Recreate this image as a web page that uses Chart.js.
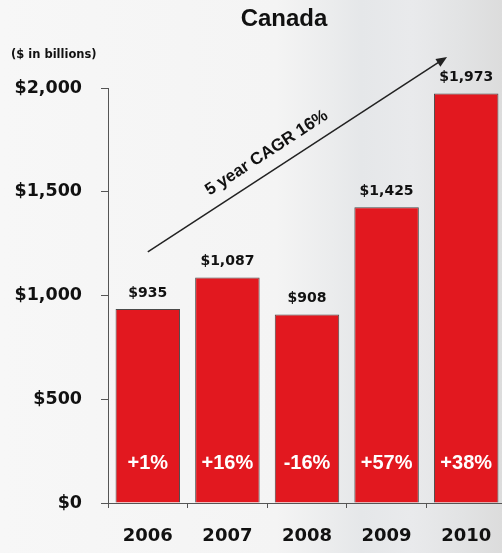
<!DOCTYPE html>
<html>
<head>
<meta charset="utf-8">
<script src="https://cdn.jsdelivr.net/npm/chart.js@4"></script>
<style>
    html, body {
        margin: 0;
        padding: 0;
        overflow: hidden;
    }
    body {
        width: 502px;
        height: 553px;
        background: linear-gradient(to right, #f7f7f7 0%, #f4f4f4 55%, #ebeced 66%, #e5e7e9 72%, #e9eaec 82%, #e2e3e4 92%, #dcdcdc 100%);
    }
    #wrap {
        position: relative;
        width: 502px;
        height: 553px;
        overflow: hidden;
    }
</style>
</head>
<body>
<!-- canvas runs a few px past the right edge so the last bar is cut like the print -->
<div id="wrap"><canvas id="canadaChart" width="510" height="553"></canvas></div>
<script>
// values in $ billions
const years = ['2006', '2007', '2008', '2009', '2010'];
const values = [935, 1087, 908, 1425, 1973];
const growth = ['+1%', '+16%', '-16%', '+57%', '+38%'];
const yTicks = [0, 500, 1000, 1500, 2000];

// trend arrow, in (category index, value) units
const arrowFrom = [0, 1210];
const arrowTo = [3.76, 2150];
const arrowText = '5 year CAGR 16%';

const FONT = '"Liberation Sans", Arial, sans-serif';
const HEAVY = '"DejaVu Sans", Verdana, sans-serif';

function money(v) {
    return '$' + v.toLocaleString('en-US');
}

const labelsPlugin = {
    id: 'labels',
    afterDatasetsDraw(chart) {
        const ctx = chart.ctx;
        const x = chart.scales.x;
        const y = chart.scales.y;
        const meta = chart.getDatasetMeta(0);
        ctx.save();
        ctx.textAlign = 'center';
        ctx.textBaseline = 'middle';

        meta.data.forEach((bar, i) => {
            // value above the bar
            ctx.fillStyle = '#111';
            ctx.font = 'bold 14px ' + HEAVY;
            ctx.fillText(money(values[i]), bar.x, bar.y - 16);

            // growth inside the bar
            ctx.fillStyle = '#fff';
            ctx.font = 'bold 20px ' + FONT;
            ctx.fillText(growth[i], bar.x, y.bottom - 40);
        });

        // title and unit note
        ctx.fillStyle = '#111';
        ctx.font = 'bold 24px ' + FONT;
        ctx.fillText('Canada', 284, 19);
        ctx.font = 'bold 11.5px ' + HEAVY;
        ctx.textAlign = 'left';
        ctx.fillText('($ in billions)', 11, 55);

        // trend arrow
        const x0 = x.getPixelForValue(arrowFrom[0]);
        const y0 = y.getPixelForValue(arrowFrom[1]);
        const x1 = x.getPixelForValue(arrowTo[0]);
        const y1 = y.getPixelForValue(arrowTo[1]);
        const ang = Math.atan2(y1 - y0, x1 - x0);
        ctx.strokeStyle = '#222';
        ctx.fillStyle = '#222';
        ctx.lineWidth = 1.5;
        ctx.beginPath();
        ctx.moveTo(x0, y0);
        ctx.lineTo(x1 - 8 * Math.cos(ang), y1 - 8 * Math.sin(ang));
        ctx.stroke();
        ctx.beginPath();
        ctx.moveTo(x1, y1);
        ctx.lineTo(x1 - 11 * Math.cos(ang) + 4.5 * Math.sin(ang), y1 - 11 * Math.sin(ang) - 4.5 * Math.cos(ang));
        ctx.lineTo(x1 - 11 * Math.cos(ang) - 4.5 * Math.sin(ang), y1 - 11 * Math.sin(ang) + 4.5 * Math.cos(ang));
        ctx.closePath();
        ctx.fill();

        // caption along the arrow
        const t = 0.43;
        const cx = x0 + (x1 - x0) * t + 18 * Math.sin(ang);
        const cy = y0 + (y1 - y0) * t - 18 * Math.cos(ang);
        ctx.translate(cx, cy);
        ctx.rotate(ang);
        ctx.textAlign = 'center';
        ctx.fillStyle = '#111';
        ctx.font = 'bold 17px ' + FONT;
        ctx.fillText(arrowText, 0, 0);
        ctx.restore();
    }
};

function createChart() {
    const ctx = document.getElementById('canadaChart').getContext('2d');
    return new Chart(ctx, {
        type: 'bar',
        data: {
            labels: years,
            datasets: [{
                data: values,
                backgroundColor: '#e2181f',
                borderColor: '#4a4a4a',
                borderWidth: 1,
                barPercentage: 0.81,
                categoryPercentage: 1
            }]
        },
        options: {
            responsive: false,
            animation: false,
            layout: {
                padding: { top: 88, right: 4, bottom: 0, left: 0 }
            },
            plugins: {
                legend: { display: false },
                tooltip: { enabled: false }
            },
            scales: {
                x: {
                    afterFit(scale) { scale.height = 50; },
                    border: { color: '#555', width: 1 },
                    grid: {
                        drawOnChartArea: false,
                        tickLength: 5,
                        color: '#555'
                    },
                    ticks: {
                        color: '#111',
                        padding: 18,
                        font: { family: HEAVY, size: 18, weight: 'bold' }
                    }
                },
                y: {
                    min: 0,
                    max: 2000,
                    afterFit(scale) { scale.width = 108; },
                    afterBuildTicks(scale) {
                        scale.ticks = yTicks.map(v => ({ value: v }));
                    },
                    border: { color: '#555', width: 1 },
                    grid: {
                        drawOnChartArea: false,
                        tickLength: 7,
                        color: '#555'
                    },
                    ticks: {
                        color: '#111',
                        padding: 19,
                        font: { family: HEAVY, size: 17.5, weight: 'bold' },
                        callback: v => money(v)
                    }
                }
            }
        },
        plugins: [labelsPlugin]
    });
}

createChart();
</script>
</body>
</html>
